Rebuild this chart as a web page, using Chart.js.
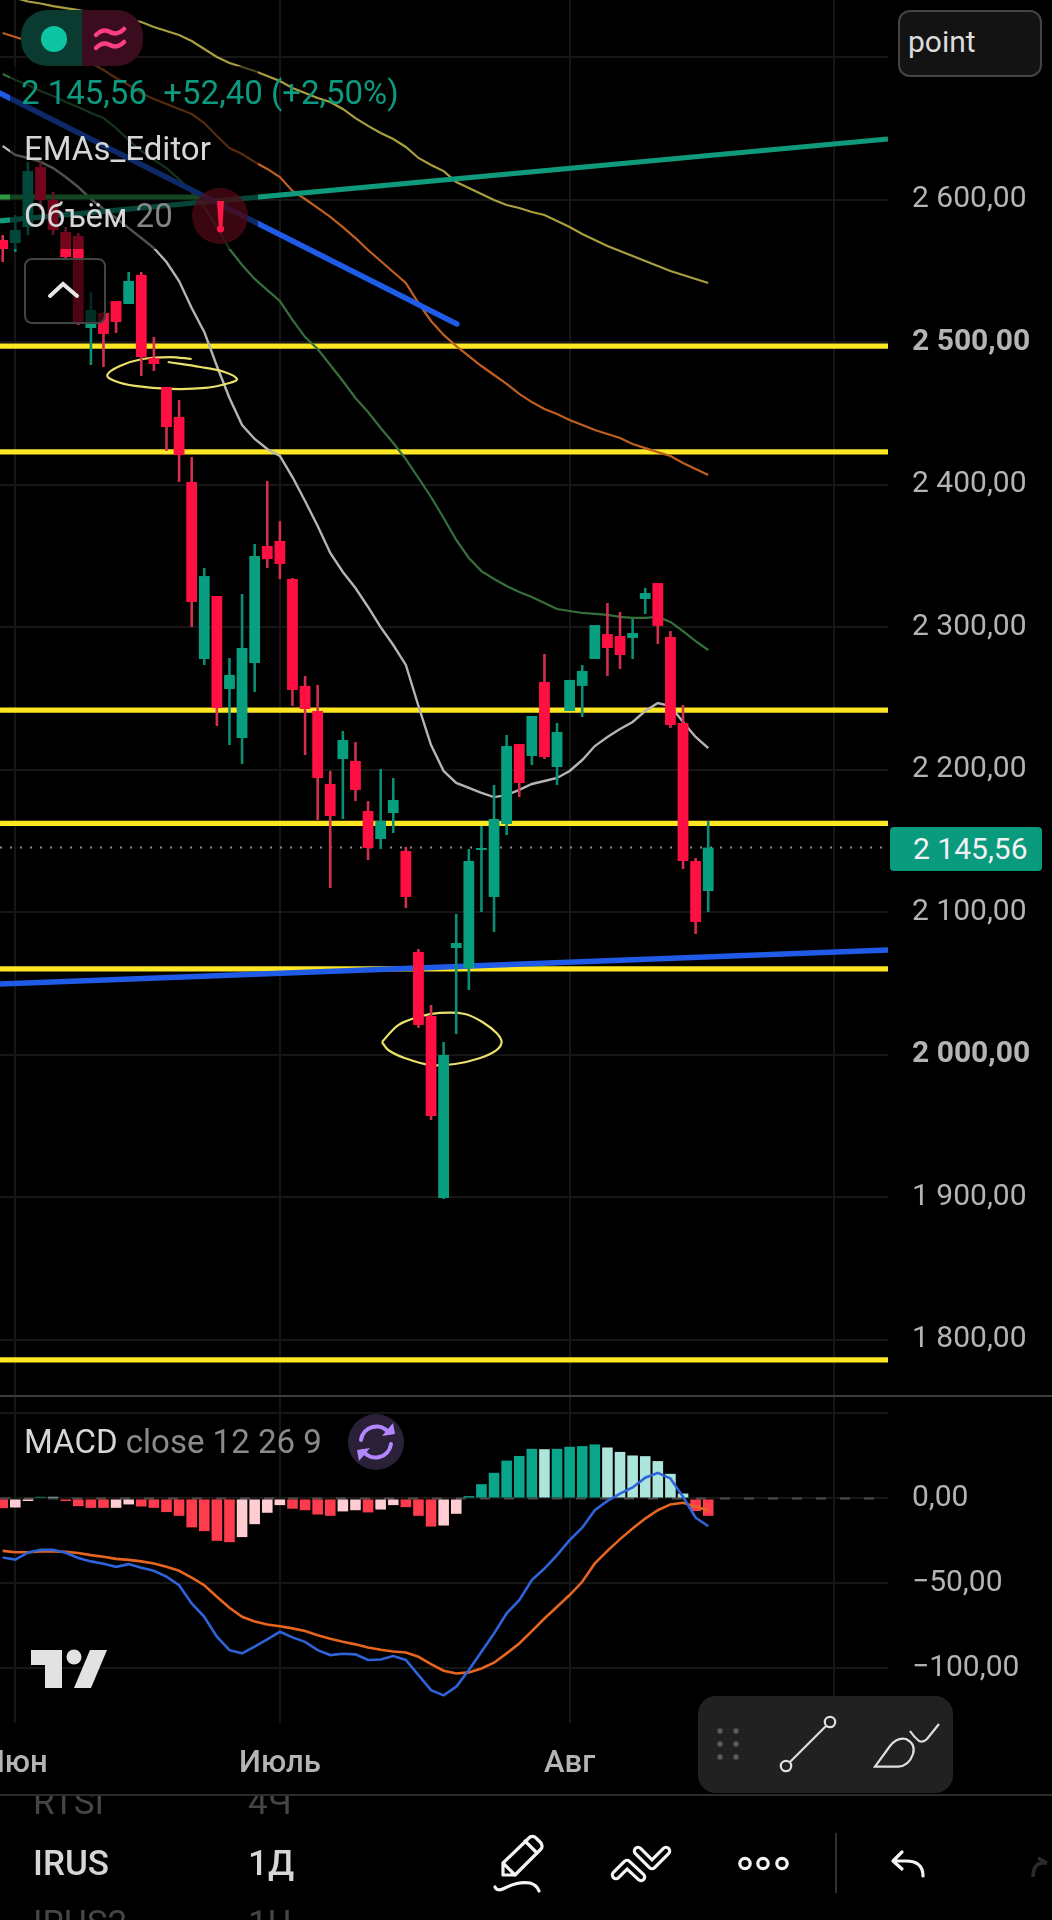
<!DOCTYPE html>
<html><head><meta charset="utf-8">
<script src="https://cdn.jsdelivr.net/npm/chart.js@4"></script>
<style>
html,body{margin:0;padding:0;background:#000;width:1052px;height:1920px;overflow:hidden;font-family:Roboto,sans-serif}
canvas{position:absolute;left:0;display:block}
.t{position:absolute;white-space:nowrap;line-height:1}
.o{position:absolute}
svg.o{overflow:visible}
</style></head><body>
<canvas id="price" width="1052" height="1396" style="top:0"></canvas>
<canvas id="macd" width="1052" height="399" style="top:1397px"></canvas>

<div class="o" style="left:10px;top:66px;width:248px;height:183px;background:rgba(0,0,0,.55)"></div>
<div class="o" style="left:24px;top:258px;width:78px;height:62px;background:rgba(0,0,0,.7);border:2px solid #434343;border-radius:8px"></div>
<svg class="o" style="left:0;top:0" width="120" height="340"><path d="M50 296 L63 284 L77 296" fill="none" stroke="#e6e6e6" stroke-width="4" stroke-linecap="round"/></svg>

<div class="o" style="left:21px;top:10px;width:61px;height:56px;background:#0a3a30;border-radius:26px 0 0 26px"></div>
<div class="o" style="left:82px;top:10px;width:61px;height:56px;background:#3b0c1e;border-radius:0 26px 26px 0"></div>
<div class="o" style="left:41px;top:26px;width:26px;height:26px;border-radius:50%;background:#0cc4a2"></div>
<svg class="o" style="left:0;top:0" width="150" height="70"><g fill="none" stroke="#ff3d82" stroke-width="4.5" stroke-linecap="round"><path d="M96 35 q7 -7 14 -3 q7 4 14 -3"/><path d="M96 48 q7 -7 14 -3 q7 4 14 -3"/></g></svg>

<div class="t" style="left:21px;top:76px;font-size:33px;color:#0b9a7f">2 145,56&nbsp; +52,40 (+2,50%)</div>
<div class="t" style="left:24px;top:132px;font-size:33px;color:#d6d6d6">EMAs_Editor</div>
<div class="t" style="left:24px;top:199px;font-size:33px;color:#d6d6d6">Объём <span style="color:#858585">20</span></div>

<div class="o" style="left:192px;top:188px;width:56px;height:56px;border-radius:50%;background:rgba(80,10,22,.72)"></div>
<svg class="o" style="left:0;top:0" width="300" height="300"><path d="M217 201 h7 l-1.6 27 h-3.6 z" fill="#ff1744"/><circle cx="220.5" cy="229" r="3.6" fill="#ff1744"/></svg>

<div class="o" style="left:898px;top:10px;width:140px;height:63px;background:#131313;border:2px solid #444;border-radius:12px"></div>
<div class="t" style="left:908px;top:27px;font-size:30px;color:#dcdcdc">point</div>

<div class="o" style="left:890px;top:827px;width:152px;height:44px;background:#0a9a7e;border-radius:4px"></div>
<div class="t" style="left:913px;top:834px;font-size:30px;color:#f2f2f2">2 145,56</div>

<div class="t" style="left:24px;top:1425px;font-size:33px;color:#d6d6d6">MACD <span style="color:#8a8a8a">close 12 26 9</span></div>
<div class="o" style="left:348px;top:1414px;width:56px;height:56px;border-radius:50%;background:#2a2138"></div>
<svg class="o" style="left:0;top:1400px" width="420" height="90"><g fill="none" stroke="#b388ff" stroke-width="4" stroke-linecap="round"><path d="M361 40 a15.5 15.5 0 0 1 28 -7"/><path d="M391 44 a15.5 15.5 0 0 1 -28 7"/></g><path d="M382 36 l13 -2 l-2 -11 z M370 48 l-13 2 l2 11 z" fill="#b388ff"/></svg>

<svg class="o" style="left:0;top:0" width="120" height="1700"><path d="M31 1650 H62 V1688 H45 V1665 H31 Z M90 1650 H107 L91 1688 H74 Z" fill="#e2e2e2"/><circle cx="74" cy="1657" r="7.5" fill="#e2e2e2"/></svg>

<div class="o" style="left:698px;top:1696px;width:255px;height:97px;background:#212121;border-radius:18px"></div>
<svg class="o" style="left:0;top:0" width="1052" height="1920">
 <g fill="#5a5a5a"><circle cx="720" cy="1731" r="2.7"/><circle cx="736" cy="1731" r="2.7"/><circle cx="720" cy="1744" r="2.7"/><circle cx="736" cy="1744" r="2.7"/><circle cx="720" cy="1757" r="2.7"/><circle cx="736" cy="1757" r="2.7"/></g>
 <g fill="none" stroke="#e0e0e0" stroke-width="2.2"><circle cx="830" cy="1722" r="5.2"/><circle cx="786" cy="1766" r="5.2"/><path d="M826 1726 L790 1762"/>
  <path d="M875 1766.7 L890 1746 Q897 1737 906 1739 Q916 1744 913 1754 Q909 1766 898 1766.7 Z"/><path d="M910 1731 Q914 1737 919 1741 Q923 1743 927 1739 L939 1724"/></g>
 <rect x="0" y="1395" width="1052" height="2" fill="#3c3c3c"/>
 <rect x="0" y="1794" width="1052" height="2" fill="#2b2b2b"/>
 <g fill="none" stroke="#f4f4f4" stroke-width="3.2" stroke-linejoin="round" stroke-linecap="round">
  <path d="M503 1863 L530 1837 Q534 1835 537 1839 L541 1843 Q543 1847 541 1849 L515 1875 H503 Z M503 1863 L515 1875 M525 1841 L537 1853"/>
  <path d="M495 1887 Q497 1892 505 1888 Q518 1881 530 1883 Q537 1885 539 1891"/>
  <circle cx="745" cy="1863.5" r="5.2"/><circle cx="763" cy="1863.5" r="5.2"/><circle cx="782" cy="1863.5" r="5.2"/>
  <path d="M923 1876 Q923 1861 906 1861 H894 M902 1852 L893 1861 L902 1869"/>
 </g>
 <g fill="none" stroke-linejoin="round" stroke-linecap="round">
  <path d="M616 1875 L627 1864 L641 1877 M638 1851 L652 1865 L666 1851" stroke="#f4f4f4" stroke-width="10.5"/>
  <path d="M616 1875 L627 1864 L641 1877 M638 1851 L652 1865 L666 1851" stroke="#000" stroke-width="4.2"/>
 </g>
 <rect x="835" y="1833" width="2" height="60" fill="#2f2f2f"/>
 <path d="M1033 1877 Q1033 1864 1042 1863 L1047 1863 M1038 1858 L1047 1863" fill="none" stroke="#2a2a2a" stroke-width="3.4"/>
</svg>
<div style="position:absolute;left:0;top:1796px;width:1052px;height:124px;overflow:hidden">
 <div class="t" style="left:33px;top:-11px;font-size:35px;color:#454545">RTSI</div>
 <div class="t" style="left:248px;top:-11px;font-size:35px;color:#454545">4Ч</div>
 <div class="t" style="left:33px;top:50px;font-size:35px;font-weight:500;color:#d6d6d6">IRUS</div>
 <div class="t" style="left:248px;top:50px;font-size:35px;font-weight:500;color:#d6d6d6">1Д</div>
 <div class="t" style="left:33px;top:110px;font-size:35px;color:#454545">IRUS2</div>
 <div class="t" style="left:248px;top:110px;font-size:35px;color:#454545">1Ч</div>
</div>

<script>
const candleOpen=[2571.9,2569.8,2581,2623.2,2600,2577.5,2574.7,2510.2,2520.7,2529.1,2527,2547.4,2489.1,2468.8,2447.7,2402.1,2277.9,2322.1,2256.8,2222.5,2275.1,2357.2,2360.7,2334,2259,2241.4,2190.2,2207.7,2206.3,2171.2,2151.6,2169.8,2143.2,2072.3,2027.4,1899.6,2075.1,2061.1,2143.9,2110.9,2162.1,2218.2,2209.8,2261.8,2202.1,2241.4,2259,2277.9,2295.4,2294,2292.6,2320,2331.2,2293.3,2233,2136.1,2115.1];
const candleHigh=[2575.4,2589.5,2626.7,2626.7,2605.6,2581,2576.8,2535.4,2521.4,2529.1,2549.5,2549.5,2503.9,2468.8,2459.6,2419.6,2341.8,2322.1,2278.6,2323.5,2358.6,2402.8,2374.7,2334.7,2266,2259.7,2199.3,2227.4,2219.6,2178.2,2200.7,2194.4,2146,2074.4,2035.1,2009.1,2099,2144.6,2160.7,2189.5,2224.6,2218.2,2237.9,2281.4,2233,2263.2,2273.7,2301.7,2317.2,2310.9,2306,2327.7,2331.2,2297.5,2245.6,2138.2,2164.2];
const candleLow=[2556.5,2563.5,2575.4,2593,2575.4,2559.3,2512.3,2484.2,2482.8,2506.7,2527,2476.5,2480,2423.9,2402.1,2300.3,2273.7,2230.9,2217.5,2204.2,2254.7,2341.8,2334,2244.9,2210.5,2164.9,2117.2,2165.6,2178.2,2136.8,2144.6,2155.8,2103.1,2019,1954.4,1898.9,2014.7,2045.6,2100.3,2086.3,2154.4,2181,2203.5,2207.7,2189.5,2241.4,2237.2,2277.9,2266,2270.9,2277.9,2309.5,2288.4,2229.5,2130.5,2084.9,2100.3];
const candleClose=[2565.6,2579,2620.3,2600,2579,2560,2514.4,2522.8,2506,2514.4,2543.2,2489.8,2484.9,2440.7,2421,2317.9,2336.1,2243.5,2266.7,2285.6,2350.2,2348,2344.6,2256.1,2242.8,2194.4,2167.7,2221,2186,2145.3,2164.2,2179,2110.9,2021.1,1957.2,2000,2078.6,2136.1,2145.3,2165.6,2216.8,2190.9,2237.9,2209.1,2226.7,2263.2,2269.5,2301.7,2285.6,2280.7,2296.1,2324.2,2301.1,2231.6,2136.1,2093.3,2145.56];

const emaWhite=[2637.9,2631.6,2629.5,2626.7,2622.4,2616.1,2609.1,2600.7,2593.7,2587.4,2580.3,2573.3,2566.3,2556.5,2543.1,2524.2,2507.4,2483.5,2461.1,2442.1,2432.3,2425.3,2420.4,2405.6,2388.8,2371.2,2352.3,2339,2327.7,2314.4,2300.3,2287.7,2273.7,2244.9,2217.5,2199.3,2190.9,2187.4,2183.9,2181,2182.4,2186,2190.2,2192.3,2194.4,2199.3,2207,2216.8,2223.2,2228.8,2233.7,2241.4,2247,2244.9,2233.7,2223.2,2215.4];
const emaGreen=[2688.4,2684.2,2680.7,2676.5,2673,2668.8,2665.3,2661,2657.5,2650.5,2642.1,2634.4,2628.1,2622.4,2614.7,2605.6,2595.1,2581,2565.6,2554.4,2544.6,2536.8,2529.1,2515.8,2503.8,2495.4,2484.2,2473,2461.1,2451.2,2440,2429.5,2418.2,2404.9,2391.6,2376.8,2361.4,2348.8,2339.6,2334,2329.1,2324.9,2321.4,2317.2,2313,2311.6,2310.2,2309.5,2308.8,2307.4,2306.7,2306.7,2307.4,2303.9,2297.5,2290.5,2284.2];
const emaOrange=[2717.2,2714.4,2711.6,2708.8,2707.4,2703.9,2701,2696.1,2691.2,2685.6,2680.7,2675,2670.9,2667.4,2663.9,2660.3,2654,2644.9,2636.5,2632.3,2626.7,2621.8,2616.1,2606.3,2600.7,2594.4,2588.1,2581,2573.3,2564.9,2557.2,2549.5,2541.8,2527.7,2515.1,2505.3,2497.5,2490.5,2483.5,2477.2,2470.9,2463.9,2458.2,2453.3,2449.8,2445.6,2442.1,2438.6,2435.8,2433,2428.8,2425.9,2423.1,2420.3,2415.4,2411.2,2407];
const emaOlive=[2744.6,2741.8,2739.3,2737.9,2736.1,2734.7,2733.3,2731.6,2729.8,2728.4,2727,2724.9,2721.4,2718.6,2715.8,2711.6,2706,2700.4,2696.1,2693.3,2690.5,2687,2683.5,2678.6,2675.1,2671.6,2668.8,2663.9,2657.5,2652,2647,2642.8,2637.2,2629.5,2624.6,2620.3,2612.6,2608.4,2604.2,2600,2596.5,2594.4,2591.6,2589.5,2585.3,2581,2576.1,2571.9,2567.7,2564.2,2560.7,2557.2,2553.7,2550.2,2547.4,2544.6,2541.8];

const macdHist=[-5.7,-5.3,-1.5,1,1,-1.5,-4.5,-5.5,-5.5,-5.5,-3.5,-4.7,-5.5,-8,-10.2,-17,-19.2,-24.9,-25.7,-22.7,-15.1,-8.4,-3.9,-6,-6.9,-9.4,-10.2,-7.6,-6.9,-8.2,-6.5,-3.9,-5.1,-10.2,-16.5,-15.9,-9,1.4,8.4,15.1,22.3,25,29.2,29,29.2,30.4,30.8,31.8,30,27.4,25.3,24.9,22,14.5,2.9,-7.4,-10.2];
const macdFade=[0,1,1,0,1,0,0,0,0,1,1,0,0,0,0,0,0,0,0,1,1,1,1,0,0,0,0,1,1,0,1,1,0,0,0,1,1,0,0,0,0,0,0,1,0,0,0,0,1,1,1,1,1,1,1,0,0];
const macdLine=[-34.7,-35.9,-31.9,-30.2,-30.2,-31.9,-35,-37,-38.4,-40.2,-38.6,-40.8,-42.5,-46,-51,-61.7,-69.6,-81.3,-89.2,-91.1,-87.2,-82.9,-78.4,-81.7,-84.3,-89.2,-92.1,-91.3,-91.7,-95,-94.7,-92.7,-95,-103.9,-112.7,-115.8,-110.7,-100.9,-90.2,-79.4,-67.6,-59.8,-48,-41.2,-33.3,-24.5,-17.2,-6.9,-1.4,2.9,6.5,12.2,15.1,11.8,1,-11.2,-16.3];
const macdSignal=[-30.8,-31.6,-31.6,-31.2,-31.2,-31.4,-32.1,-33.3,-34.3,-35.5,-36.1,-37,-38.2,-40.2,-42.5,-46.5,-51,-57.8,-64.3,-69.6,-72.3,-74.1,-75.1,-76.4,-78,-80.4,-82.5,-84.3,-85.8,-87.6,-89,-90,-90.6,-93.1,-97.4,-101.3,-102.9,-102.3,-100,-96.6,-91.1,-85.3,-78,-70.6,-63.7,-56.8,-49,-38.2,-30.8,-23.9,-17.6,-11.8,-6.9,-3.5,-2.5,-4.9,-6.9];

const yellowLevels=[2497.5,2423.2,2242,2162.6,2060.4,1786];
const lastPrice=2145.56;
const priceTicks=[2700,2600,2500,2400,2300,2200,2100,2000,1900,1800];
const boldTicks=[2500,2000];
const hiddenTicks=[2700];
const macdTicks=[50,0,-50,-100];
const macdHiddenTicks=[50];
const timeTicks=[1,22,45,66];
const timeLabels=['Июн','Июль','Авг',''];
const barFirst=0, xMin=-0.214, xMax=70.27;
const priceMin=1760.7, priceMax=2740.35, macdMin=-132.06, macdMax=59.7;

const blueLowIdx=[-0.214,70.27], blueLowPrice=[2049.8,2073.7];
const blueHighIdx=[-0.214,36.05], blueHighPrice=[2675,2513];
const greenTrendIdx=[-0.214,70.27], greenTrendPrice=[2585.3,2642.8];
const greenFlatIdx=[-0.214,15.7], greenFlatPrice=[2602.1,2602.1];

const ring1Idx=[15,13.3,11.1,9.3,8.3,8.9,10.5,13.3,16.1,18,18.6,17.6,15.7,13.1];
const ring1Price=[2488.4,2489.8,2488.4,2483.5,2477.2,2473,2469.5,2467.4,2468.1,2471.6,2474.4,2479.3,2482.8,2486.3];
const ring2Idx=[30.1,31.4,33,34.7,36.7,38.1,39.2,39.6,39.2,37.9,35.9,33.9,31.9,30.6,30.1];
const ring2Price=[2009.1,2021,2026.7,2029.5,2028.8,2023,2015.4,2009.1,2003.5,1997.9,1993.7,1993,1997.9,2003.5,2009.1];

const UP='#089e80', DOWN='#ff0f42', UPW='#0a8f75', DOWNW='#d3304e';
const FONT='Roboto';
const idx=candleClose.map((_,i)=>i+barFirst);
const pts=(xs,ys)=>xs.map((x,i)=>({x,y:ys[i]}));
const bars=(a,b)=>idx.map((x,i)=>({x,y:[a[i],b[i]]}));
const line=(data,color,width,order,extra)=>Object.assign({type:'line',data,borderColor:color,borderWidth:width,pointRadius:0,order,tension:0,fill:false,borderCapStyle:'butt'},extra||{});
const fmt=v=>{const s=Math.abs(v).toFixed(2).replace('.',',');const p=s.split(',');return (v<0?'−':'')+p[0].replace(/\B(?=(\d{3})+(?!\d))/g,' ')+','+p[1];};
const grid='#161616';
const noPad=s=>{s.paddingLeft=0;s.paddingRight=0;s.paddingTop=0;s.paddingBottom=0;};
const base={responsive:false,animation:false,devicePixelRatio:1,maintainAspectRatio:false,layout:{padding:0},plugins:{legend:{display:false},tooltip:{enabled:false},title:{display:false}}};

const wickColors=candleClose.map((c,i)=>c>=candleOpen[i]?UPW:DOWNW);
const bodyColors=candleClose.map((c,i)=>c>=candleOpen[i]?UP:DOWN);
const yellowSets=yellowLevels.map(v=>line(pts([xMin,xMax],[v,v]),'#fde723',5.2,20));

new Chart(document.getElementById('price'),{
 type:'bar',
 data:{datasets:[
  ...yellowSets,
  line(pts([xMin,xMax],[lastPrice,lastPrice]),'#8c8c8c',2,19,{borderDash:[2,8]}),
  line(pts(idx,emaOlive),'#a89f3f',2.2,18),
  line(pts(idx,emaOrange),'#bf5f20',2.2,18),
  line(pts(idx,emaGreen),'#35703c',2.2,18),
  line(pts(idx,emaWhite),'#b4b4b4',2.4,18),
  line(pts(greenFlatIdx,greenFlatPrice),'#2f9a44',5,17),
  line(pts(greenTrendIdx,greenTrendPrice),'#0f9a7c',5.2,16),
  line(pts(blueHighIdx,blueHighPrice),'#1f5be6',5.5,15,{borderCapStyle:'round'}),
  line(pts(blueLowIdx,blueLowPrice),'#1f5be6',5.5,15),
  line(pts(ring1Idx,ring1Price),'#e9e16a',2.2,14,{tension:.35}),
  line(pts(ring2Idx,ring2Price),'#e9e16a',2.2,14,{tension:.35}),
  {type:'bar',data:bars(candleLow,candleHigh),backgroundColor:wickColors,barThickness:2.6,grouped:false,borderWidth:0,order:5,inflateAmount:0},
  {type:'bar',data:bars(candleOpen,candleClose),backgroundColor:bodyColors,barThickness:10.8,grouped:false,borderWidth:0,order:4,inflateAmount:0,minBarLength:2}
 ]},
 options:Object.assign({},base,{scales:{
  x:{type:'linear',min:xMin,max:xMax,offset:false,afterBuildTicks:s=>{s.ticks=timeTicks.map(v=>({value:v}));},
     afterFit:s=>{noPad(s);s.height=0;},
     grid:{color:grid,lineWidth:2,drawTicks:false,offset:false},border:{display:false},ticks:{display:false}},
  y:{type:'linear',position:'right',min:priceMin,max:priceMax,afterBuildTicks:s=>{s.ticks=priceTicks.map(v=>({value:v}));},
     afterFit:s=>{noPad(s);s.width=164;},
     grid:{color:grid,lineWidth:2,drawTicks:false},border:{display:false},
     ticks:{autoSkip:false,padding:24,crossAlign:'near',color:'#b4b4b4',
       font:c=>({family:FONT,size:30,weight:boldTicks.includes(c.tick&&c.tick.value)?'bold':'normal'}),
       callback:v=>hiddenTicks.includes(v)?'':fmt(v)}}
 }})
});

const histColor=macdHist.map((v,i)=>v>=0?(macdFade[i]?'#ace5dc':'#0aa68c'):(macdFade[i]?'#ffcdd2':'#ff3c4e'));
new Chart(document.getElementById('macd'),{
 type:'bar',
 data:{datasets:[
  line(pts([xMin,xMax],[0,0]),'#4c4c4c',2,12,{borderDash:[10,14]}),
  {type:'bar',data:idx.map((x,i)=>({x,y:macdHist[i]})),backgroundColor:histColor,barThickness:10.6,grouped:false,borderWidth:0,order:8,inflateAmount:0},
  line(pts(idx,macdSignal),'#e6651f',2.6,3),
  line(pts(idx,macdLine),'#2f63d9',2.6,2)
 ]},
 options:Object.assign({},base,{scales:{
  x:{type:'linear',min:xMin,max:xMax,offset:false,afterBuildTicks:s=>{s.ticks=timeTicks.map(v=>({value:v}));},
     afterFit:s=>{noPad(s);s.height=73;},
     grid:{color:grid,lineWidth:2,drawTicks:false,offset:false},border:{display:false},
     ticks:{autoSkip:false,maxRotation:0,minRotation:0,padding:23,color:'#b4b4b4',font:{family:FONT,size:31,weight:'500'},
       callback:v=>{const k=timeTicks.indexOf(v);return k<0?'':timeLabels[k];}}},
  y:{type:'linear',position:'right',min:macdMin,max:macdMax,afterBuildTicks:s=>{s.ticks=macdTicks.map(v=>({value:v}));},
     afterFit:s=>{noPad(s);s.width=164;},
     grid:{color:grid,lineWidth:2,drawTicks:false},border:{display:false},
     ticks:{autoSkip:false,padding:24,crossAlign:'near',color:'#b4b4b4',font:{family:FONT,size:30},
       callback:v=>macdHiddenTicks.includes(v)?'':fmt(v)}}
 }})
});
</script>
</body></html>
